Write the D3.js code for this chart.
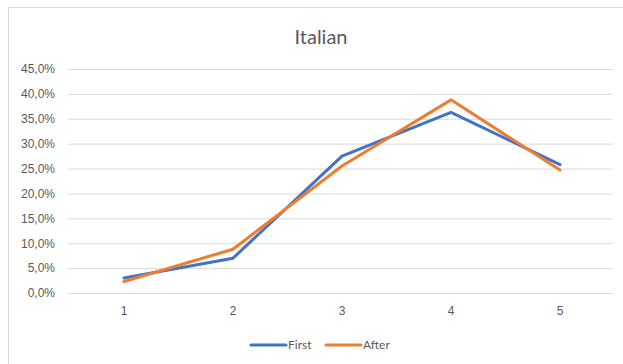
<!DOCTYPE html>
<html>
<head>
<meta charset="utf-8">
<script src="https://cdn.jsdelivr.net/npm/d3@7"></script>
<style>
  html, body { margin: 0; padding: 0; background: #fff; }
  svg { display: block; font-family: Lato, "Open Sans", "Liberation Sans", sans-serif; }
</style>
</head>
<body>
<svg id="chart" width="623" height="364"></svg>
<script>
// Chart data
const categories = ["1", "2", "3", "4", "5"];
const seriesNames = ["First", "After"];
const firstValues = [0.030, 0.070, 0.275, 0.363, 0.258];
const afterValues = [0.023, 0.088, 0.255, 0.388, 0.247];
const yTicks = [0, 0.05, 0.10, 0.15, 0.20, 0.25, 0.30, 0.35, 0.40, 0.45];
const colors = ["#4472C4", "#ED7D31"];

const series = [
  { name: seriesNames[0], values: firstValues, color: colors[0] },
  { name: seriesNames[1], values: afterValues, color: colors[1] }
];

const svg = d3.select("#chart");
const W = 623, H = 364;

// Outer chart frame
svg.append("rect")
  .attr("x", 8.5).attr("y", 7.5)
  .attr("width", W).attr("height", H)
  .attr("fill", "#fff")
  .attr("stroke", "#d9d9d9").attr("stroke-width", 1);

// Title
svg.append("text")
  .attr("x", 321).attr("y", 44)
  .attr("text-anchor", "middle")
  .attr("font-size", 20)
  .attr("fill", "#595959")
  .text("Italian");

const plot = { left: 68, right: 613, top: 69, bottom: 293 };

const x = d3.scaleBand()
  .domain(categories)
  .range([plot.left + 1.5, plot.right + 1.5]);

const y = d3.scaleLinear()
  .domain([0, 0.45])
  .range([plot.bottom, plot.top]);

const fmt = v => d3.format(".1f")(v * 100).replace(".", ",") + "%";

// Gridlines and y labels
const yAxis = d3.axisLeft(y)
  .tickValues(yTicks)
  .tickSize(-(plot.right - plot.left))
  .tickPadding(13)
  .tickFormat(fmt);

const gy = svg.append("g")
  .attr("transform", `translate(${plot.left},0)`)
  .call(yAxis);
gy.select(".domain").remove();
gy.selectAll(".tick line").attr("stroke", "#d9d9d9").attr("stroke-width", 1);
gy.selectAll(".tick text")
  .attr("fill", "#595959")
  .attr("font-size", 12);

// X axis labels
const xAxis = d3.axisBottom(x).tickSize(0).tickPadding(13);
const gx = svg.append("g")
  .attr("transform", `translate(0,${plot.bottom})`)
  .call(xAxis);
gx.select(".domain").remove();
gx.selectAll(".tick text")
  .attr("fill", "#595959")
  .attr("font-size", 12);

// Lines
const line = d3.line()
  .x((d, i) => x(categories[i]) + x.bandwidth() / 2)
  .y(d => y(d));

svg.append("g")
  .selectAll("path")
  .data(series)
  .join("path")
  .attr("d", d => line(d.values))
  .attr("fill", "none")
  .attr("stroke", d => d.color)
  .attr("stroke-width", 3)
  .attr("stroke-linejoin", "round")
  .attr("stroke-linecap", "round");

// Legend
const legendY = 345;
const legendItems = [
  { x: 251, s: series[0] },
  { x: 326, s: series[1] }
];
const lg = svg.append("g");
legendItems.forEach(it => {
  lg.append("line")
    .attr("x1", it.x).attr("x2", it.x + 35)
    .attr("y1", legendY).attr("y2", legendY)
    .attr("stroke", it.s.color)
    .attr("stroke-width", 3)
    .attr("stroke-linecap", "round");
  lg.append("text")
    .attr("x", it.x + 37).attr("y", legendY + 4)
    .attr("font-size", 12)
    .attr("fill", "#595959")
    .text(it.s.name);
});
</script>
</body>
</html>
